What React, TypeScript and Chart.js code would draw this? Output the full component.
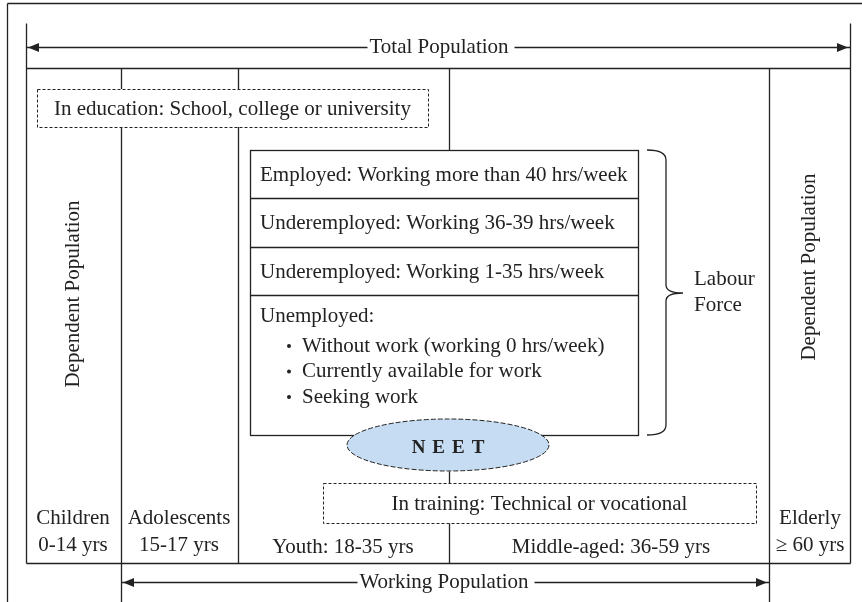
import React, { useEffect, useRef } from "react";
import { Chart, registerables } from "chart.js";

Chart.register(...registerables);

// ---- content ----
const totalLabel = "Total Population";
const workingLabel = "Working Population";
const educationLabel = "In education: School, college or university";
const trainingLabel = "In training: Technical or vocational";
const dependentLabel = "Dependent Population";
const labourRows = [
  "Employed: Working more than 40 hrs/week",
  "Underemployed: Working 36-39 hrs/week",
  "Underemployed: Working 1-35 hrs/week",
];
const unemployedTitle = "Unemployed:";
const unemployedItems = [
  "Without work (working 0 hrs/week)",
  "Currently available for work",
  "Seeking work",
];
const labourForceLabel = ["Labour", "Force"];
const neetLetters = ["N", "E", "E", "T"];
const ageGroups = [
  ["Children", "0-14 yrs"],
  ["Adolescents", "15-17 yrs"],
  ["Youth: 18-35 yrs"],
  ["Middle-aged: 36-59 yrs"],
  ["Elderly", "\u2265 60 yrs"],
];

// ---- layout (diagram units == scale values) ----
const L = {
  colEdges: [26, 121, 238, 449, 769, 850],
  tableTop: 68,
  tableBottom: 563,
  topArrowY: 47,
  topTick: 23,
  bottomArrowY: 582,
  edu: { x0: 37, x1: 428, y0: 89, y1: 127 },
  labour: { x0: 250, x1: 638, rows: [150, 198, 247, 295, 435] },
  train: { x0: 323, x1: 756, y0: 483, y1: 523 },
  neet: { cx: 448, cy: 445, rx: 101, ry: 26 },
  brace: { x0: 647, x1: 666, tip: 683, y0: 150, y1: 435, ym: 293 },
  ageCx: [73, 179, 343, 611, 810],
};

const INK = "#222222";
const FONT = "'Liberation Serif', 'Times New Roman', serif";
const FS = 21;

const diagramPlugin = {
  id: "diagram",
  afterDraw(chart: any) {
    const ctx: CanvasRenderingContext2D = chart.ctx;
    const xs = chart.scales.x;
    const ys = chart.scales.y;
    const X = (v: number) => xs.getPixelForValue(v);
    const Y = (v: number) => ys.getPixelForValue(v);
    const px = (v: number) => Math.round(X(v)) + 0.5;
    const py = (v: number) => Math.round(Y(v)) + 0.5;

    ctx.save();
    ctx.strokeStyle = INK;
    ctx.fillStyle = INK;
    ctx.lineWidth = 1.3;

    const line = (x0: number, y0: number, x1: number, y1: number) => {
      ctx.beginPath();
      ctx.moveTo(px(x0), py(y0));
      ctx.lineTo(px(x1), py(y1));
      ctx.stroke();
    };
    const font = (size = FS, weight = "normal") => {
      ctx.font = `${weight} ${size}px ${FONT}`;
    };
    const text = (s: string, x: number, y: number, align: CanvasTextAlign = "center") => {
      ctx.textAlign = align;
      ctx.textBaseline = "middle";
      ctx.fillText(s, X(x), Y(y));
    };
    const arrowHead = (x: number, y: number, dir: number) => {
      ctx.beginPath();
      ctx.moveTo(X(x), Y(y) + 0.5);
      ctx.lineTo(X(x) - dir * 11, Y(y) - 4.5 + 0.5);
      ctx.lineTo(X(x) - dir * 11, Y(y) + 4.5 + 0.5);
      ctx.closePath();
      ctx.fill();
    };

    // page frame
    line(7, 3, 862, 3);
    line(7, 3, 7, 602);

    const c = L.colEdges;
    // table outline
    line(c[0], L.topTick, c[0], L.tableBottom);
    line(c[5], L.topTick, c[5], L.tableBottom);
    line(c[0], L.tableTop, c[5], L.tableTop);
    line(c[0], L.tableBottom, c[5], L.tableBottom);
    // column dividers
    line(c[1], L.tableTop, c[1], 602);
    line(c[2], L.tableTop, c[2], L.tableBottom);
    line(c[3], L.tableTop, c[3], L.labour.rows[0]);
    line(c[3], L.neet.cy + L.neet.ry, c[3], L.train.y0);
    line(c[3], L.train.y1, c[3], L.tableBottom);
    line(c[4], L.tableTop, c[4], 602);

    // arrows with labels
    font();
    const arrow = (x0: number, x1: number, y: number, label: string, cx: number) => {
      const w = ctx.measureText(label).width;
      line(x0, y, cx - w / 2 - 2, y);
      line(cx + w / 2 + 5, y, x1, y);
      arrowHead(x0 + 2, y, -1);
      arrowHead(x1 - 2, y, 1);
      text(label, cx, y);
    };
    arrow(c[0], c[5], L.topArrowY, totalLabel, 439);
    arrow(c[1], c[4], L.bottomArrowY, workingLabel, 444);

    // dashed boxes
    const dashedBox = (b: { x0: number; x1: number; y0: number; y1: number }, label: string) => {
      ctx.fillStyle = "#ffffff";
      ctx.fillRect(X(b.x0), Y(b.y0), X(b.x1) - X(b.x0), Y(b.y1) - Y(b.y0));
      ctx.setLineDash([3, 2]);
      ctx.lineWidth = 1;
      ctx.strokeRect(px(b.x0), py(b.y0), px(b.x1) - px(b.x0), py(b.y1) - py(b.y0));
      ctx.setLineDash([]);
      ctx.lineWidth = 1.3;
      ctx.fillStyle = INK;
      font();
      text(label, (b.x0 + b.x1) / 2, (b.y0 + b.y1) / 2 + 1);
    };
    dashedBox(L.edu, educationLabel);

    // labour force box
    const lb = L.labour;
    ctx.fillStyle = "#ffffff";
    ctx.fillRect(X(lb.x0), Y(lb.rows[0]), X(lb.x1) - X(lb.x0), Y(lb.rows[4]) - Y(lb.rows[0]));
    ctx.fillStyle = INK;
    ctx.strokeRect(px(lb.x0), py(lb.rows[0]), px(lb.x1) - px(lb.x0), py(lb.rows[4]) - py(lb.rows[0]));
    for (let i = 1; i < 4; i++) line(lb.x0, lb.rows[i], lb.x1, lb.rows[i]);
    font();
    labourRows.forEach((s, i) => {
      text(s, lb.x0 + 10, (lb.rows[i] + lb.rows[i + 1]) / 2 + 1, "left");
    });
    text(unemployedTitle, lb.x0 + 10, lb.rows[3] + 21, "left");
    unemployedItems.forEach((s, i) => {
      const y = lb.rows[3] + 51 + i * 25.5;
      ctx.beginPath();
      ctx.arc(X(lb.x0 + 39), Y(y), 2, 0, Math.PI * 2);
      ctx.fill();
      text(s, lb.x0 + 52, y, "left");
    });

    // brace
    const br = L.brace;
    ctx.beginPath();
    ctx.moveTo(X(br.x0), Y(br.y0));
    ctx.quadraticCurveTo(X(br.x1), Y(br.y0), X(br.x1), Y(br.y0 + 10));
    ctx.lineTo(X(br.x1), Y(br.ym - 8));
    ctx.quadraticCurveTo(X(br.x1), Y(br.ym), X(br.tip), Y(br.ym));
    ctx.quadraticCurveTo(X(br.x1), Y(br.ym), X(br.x1), Y(br.ym + 8));
    ctx.lineTo(X(br.x1), Y(br.y1 - 10));
    ctx.quadraticCurveTo(X(br.x1), Y(br.y1), X(br.x0), Y(br.y1));
    ctx.stroke();
    font();
    text(labourForceLabel[0], br.tip + 11, 279, "left");
    text(labourForceLabel[1], br.tip + 11, 305, "left");

    // NEET ellipse
    const n = L.neet;
    ctx.beginPath();
    ctx.ellipse(X(n.cx), Y(n.cy), n.rx, n.ry, 0, 0, Math.PI * 2);
    ctx.fillStyle = "#c6dcf2";
    ctx.fill();
    ctx.setLineDash([5, 2]);
    ctx.lineWidth = 1;
    ctx.stroke();
    ctx.setLineDash([]);
    ctx.lineWidth = 1.3;
    ctx.fillStyle = INK;
    font(19, "bold");
    const gap = 7;
    const widths = neetLetters.map((l) => ctx.measureText(l).width);
    const total = widths.reduce((a, b) => a + b, 0) + gap * (neetLetters.length - 1);
    let cx = X(n.cx) - total / 2;
    ctx.textAlign = "left";
    ctx.textBaseline = "middle";
    neetLetters.forEach((l, i) => {
      ctx.fillText(l, cx, Y(n.cy + 3));
      cx += widths[i] + gap;
    });

    // training dashed box
    dashedBox(L.train, trainingLabel);

    // age groups
    font();
    ageGroups.forEach((g, i) => {
      if (g.length === 2) {
        text(g[0], L.ageCx[i], 518);
        text(g[1], L.ageCx[i], 545);
      } else {
        text(g[0], L.ageCx[i], 547);
      }
    });

    // dependent population (rotated)
    const vText = (s: string, x: number, y: number) => {
      ctx.save();
      ctx.translate(X(x), Y(y));
      ctx.rotate(-Math.PI / 2);
      ctx.textAlign = "center";
      ctx.textBaseline = "middle";
      ctx.fillText(s, 0, 0);
      ctx.restore();
    };
    vText(dependentLabel, 73, 294);
    vText(dependentLabel, 809, 267);

    ctx.restore();
  },
};

export default function App() {
  const ref = useRef<HTMLCanvasElement>(null);
  useEffect(() => {
    if (!ref.current) return;
    const chart = new Chart(ref.current, {
      type: "scatter",
      data: { datasets: [{ data: [], pointRadius: 0 }] },
      options: {
        animation: false,
        responsive: false,
        events: [],
        layout: { padding: 0 },
        plugins: { legend: { display: false }, tooltip: { enabled: false } },
        scales: {
          x: { type: "linear", min: 0, max: 862, display: false },
          y: { type: "linear", min: 0, max: 602, reverse: true, display: false },
        },
      },
      plugins: [diagramPlugin],
    });
    return () => chart.destroy();
  }, []);
  return (
    <div style={{ position: "fixed", left: 0, top: 0, width: 862, height: 602, background: "#fff" }}>
      <canvas ref={ref} width={862} height={602} style={{ display: "block" }} />
    </div>
  );
}
